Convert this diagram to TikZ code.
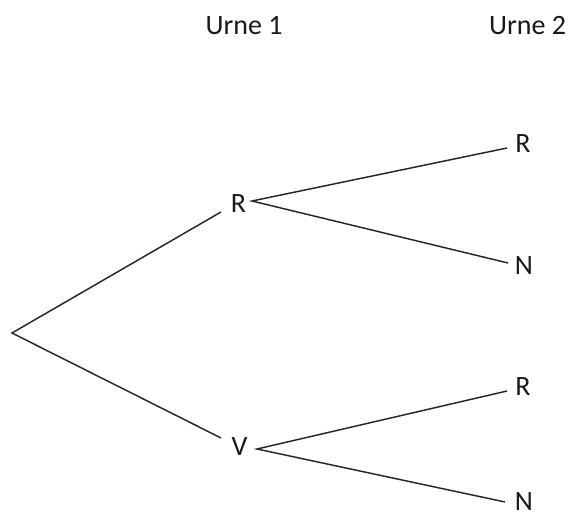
\documentclass[tikz,border=0pt]{standalone}
\usepackage{fontspec}
\setmainfont{Carlito}
\begin{document}
\begin{tikzpicture}[x=0.75pt,y=-0.75pt,
  lbl/.style={anchor=base,inner sep=0pt,font=\fontsize{21}{25}\selectfont,text=black!90},
  branch/.style={draw=black!85,line width=1.1pt}]
\useasboundingbox (0,0) rectangle (571,513);
% headers
\node[lbl] (u1) at (244,35) {Urne 1};
\node[lbl] (u2) at (527.5,35) {Urne 2};
% nodes
\node[lbl] (R) at (238.5,213) {R};
\node[lbl] (V) at (239.5,455) {V};
\node[lbl] (RR) at (523,153) {R};
\node[lbl] (RN) at (524,275) {N};
\node[lbl] (VR) at (523,395) {R};
\node[lbl] (VN) at (524,510.5) {N};
% branch points
\coordinate (root) at (12,333);
\coordinate (Rin) at (221,212);
\coordinate (Rout) at (252,201);
\coordinate (Vin) at (221,438);
\coordinate (Vout) at (257,449);
\coordinate (RRin) at (507,148);
\coordinate (RNin) at (508,263);
\coordinate (VRin) at (507,391);
\coordinate (VNin) at (505,502);
% connectors
\draw[branch] (Rin) -- (root) -- (Vin);
\draw[branch] (RRin) -- (Rout) -- (RNin);
\draw[branch] (VRin) -- (Vout) -- (VNin);
\end{tikzpicture}
\end{document}
